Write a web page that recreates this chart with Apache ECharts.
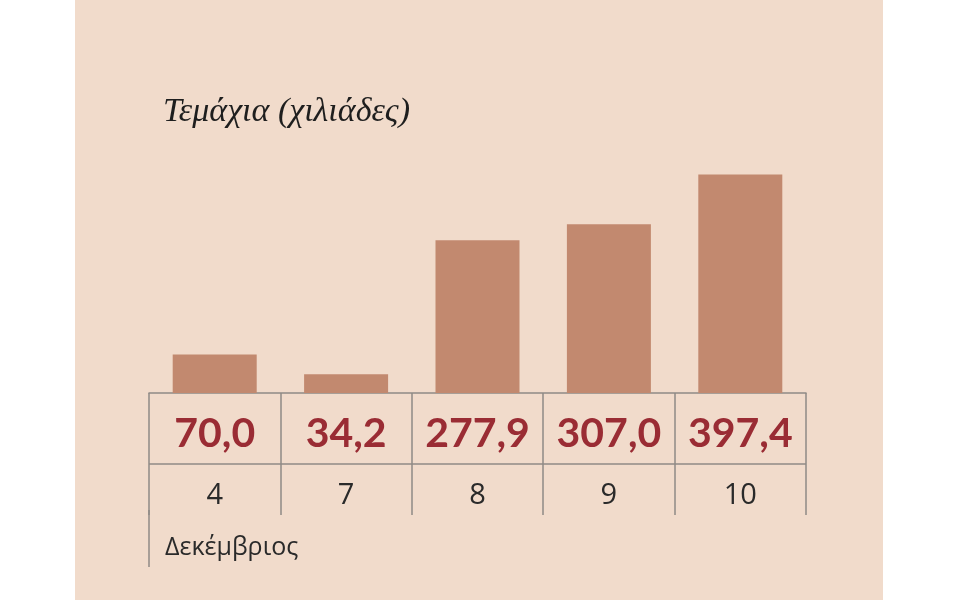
<!DOCTYPE html>
<html><head><meta charset="utf-8">
<script src="https://cdn.jsdelivr.net/npm/echarts@6/dist/echarts.min.js"></script>
<style>html,body{margin:0;background:#fff}#chart{width:960px;height:600px}</style>
</head><body><div id="chart"></div>
<script>
var days = ['4', '7', '8', '9', '10'];
var units = [70.0, 34.2, 277.9, 307.0, 397.4];
var titleText = 'Τεμάχια (χιλιάδες)';
var monthText = 'Δεκέμβριος';

var myChart = echarts.init(document.getElementById('chart'));
var lineColor = '#8f8a86';

var option = {
	backgroundColor: '#ffffff',
	graphic: [
		{ type: 'rect', z: -10, shape: { x: 75, y: 0, width: 808, height: 600 }, style: { fill: '#f1dbcb' } },
		{ type: 'text', left: 163, top: 95, style: { text: titleText, font: 'italic 34px "Liberation Serif"', fill: '#1e1e1e' } },
		{ type: 'line', shape: { x1: 149, y1: 464, x2: 806, y2: 464 }, style: { stroke: lineColor, lineWidth: 1.5 } },
		{ type: 'line', shape: { x1: 149, y1: 510, x2: 149, y2: 567 }, style: { stroke: lineColor, lineWidth: 1.5 } },
		{ type: 'text', left: 165, top: 535, style: { text: monthText, font: '25px "Open Sans"', fill: '#2a2a2a' } }
	],
	grid: { left: 149, right: 154, top: 173, bottom: 207 },
	xAxis: [
		{
			type: 'category', data: units, position: 'bottom',
			axisLine: { lineStyle: { color: lineColor, width: 1.5 } },
			axisTick: { show: true, interval: 0, length: 122, lineStyle: { color: lineColor, width: 1.5 } },
			axisLabel: {
				margin: 20, interval: 0, color: '#9a2c34', fontSize: 41, fontWeight: 'bold', fontFamily: 'Lato',
				formatter: function (v) { return Number(v).toFixed(1).replace('.', ','); }
			}
		},
		{
			type: 'category', data: days, position: 'bottom',
			axisLine: { show: false }, axisTick: { show: false },
			axisLabel: { margin: 88, interval: 0, color: '#2a2a2a', fontSize: 29, fontFamily: 'Open Sans' }
		}
	],
	yAxis: { type: 'value', min: 0, max: 400, show: false },
	series: [{
		type: 'bar', data: units, barWidth: 84, itemStyle: { color: '#c2896f' }
	}]
};
myChart.setOption(option);
</script></body></html>
